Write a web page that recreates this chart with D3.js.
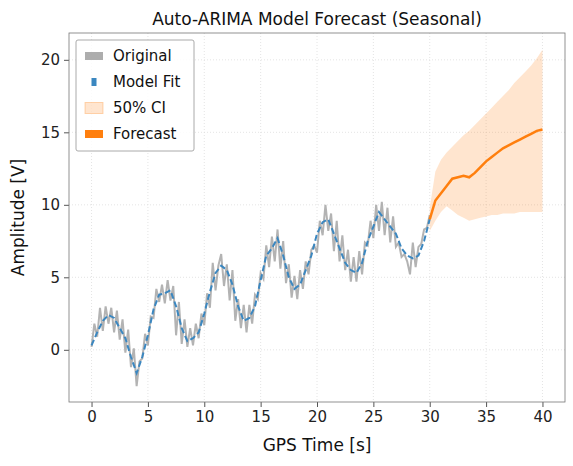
<!DOCTYPE html>
<html><head><meta charset="utf-8">
<script src="https://cdn.jsdelivr.net/npm/d3@7"></script>
<style>body{margin:0;background:#fff;font-family:"DejaVu Sans",sans-serif}</style>
</head><body><svg id="chart" width="573" height="466"></svg>
<script>
const origT0 = 0, origStep = 0.25;
const original = [0.2,1.8,0.9,2.9,1.3,3.0,1.8,2.9,1.2,2.7,0.7,2.1,-0.2,1.4,-1.2,0.1,-2.5,-0.8,-0.6,1.1,
  0.3,2.3,2.2,4.2,3.3,4.5,3.2,4.8,3.4,4.4,1.0,3.3,0.4,2.1,0.2,1.5,0.3,1.8,0.8,2.5,
  1.7,3.9,2.9,6.0,4.1,5.8,6.6,4.4,5.9,3.4,5.5,2.0,3.5,1.5,3.1,1.2,3.1,1.8,3.8,3.5,
  5.3,4.9,7.2,5.7,7.8,6.1,8.3,5.6,7.5,4.6,5.9,3.6,5.1,3.5,5.5,4.2,6.1,5.2,6.9,7.2,
  6.7,8.9,7.9,10.0,8.2,9.4,6.8,8.9,6.1,7.9,5.5,6.9,4.7,6.4,4.7,6.8,5.2,7.4,7.2,8.9,
  7.7,10.0,8.2,10.2,7.9,9.8,7.4,9.2,7.1,7.4,6.4,6.6,6.1,5.2,7.4,5.7,7.1,7.3,8.3,8.4,9.3];
const fitStep = 0.5;
const modelFit = [0.3,1.2,2.0,2.4,2.2,1.5,0.8,-0.5,-1.6,-0.5,1.0,2.8,3.8,3.9,4.1,3.0,1.5,0.6,0.8,1.2,
  2.5,4.0,5.3,5.8,5.5,4.5,3.0,2.0,2.2,3.0,4.8,6.5,7.0,7.7,6.5,5.0,4.2,4.5,5.5,6.5,
  8.0,8.8,9.0,8.0,7.0,6.0,5.5,5.3,6.0,7.5,8.5,9.5,9.0,8.5,8.0,7.0,6.5,6.3,6.5,7.5,9.0];
const fcT0 = 30, fcStep = 0.5;
const forecast = [9.0,10.3,10.8,11.3,11.8,11.9,12.0,11.9,12.2,12.6,13.0,13.3,13.6,13.9,14.1,14.3,14.5,14.7,14.9,15.1,15.2];
const ciUpper = [9.8,12.3,13.1,13.6,14.0,14.4,14.8,15.1,15.5,15.9,16.3,16.7,17.1,17.5,17.9,18.4,18.8,19.2,19.6,20.1,20.7];
const ciLower = [8.2,8.9,9.5,9.9,9.6,9.3,9.1,8.9,9.0,9.1,9.2,9.3,9.3,9.4,9.4,9.4,9.5,9.5,9.5,9.5,9.5];
const xTicks = [0,5,10,15,20,25,30,35,40];
const yTicks = [0,5,10,15,20];

const svg = d3.select("#chart");
const L = 69, R = 565, T = 33, B = 402;
const x = d3.scaleLinear().domain([-2, 42]).range([L, R]);
const y = d3.scaleLinear().domain([-3.6, 21.85]).range([B, T]);

// grid
svg.append("g").selectAll("line").data(xTicks).join("line")
  .attr("x1", d => x(d)).attr("x2", d => x(d)).attr("y1", T).attr("y2", B)
  .attr("stroke", "#ddd").attr("stroke-width", 0.8).attr("stroke-dasharray", "1,2");
svg.append("g").selectAll("line").data(yTicks).join("line")
  .attr("y1", d => y(d)).attr("y2", d => y(d)).attr("x1", L).attr("x2", R)
  .attr("stroke", "#ddd").attr("stroke-width", 0.8).attr("stroke-dasharray", "1,2");

const ci = forecast.map((d, i) => ({t: fcT0 + i * fcStep, lo: ciLower[i], hi: ciUpper[i]}));
svg.append("path").datum(ci)
  .attr("d", d3.area().x(d => x(d.t)).y0(d => y(d.lo)).y1(d => y(d.hi)))
  .attr("fill", "#ff7f0e").attr("fill-opacity", 0.2);

const line = d3.line().x(d => x(d[0])).y(d => y(d[1]));
svg.append("path").datum(original.map((v, i) => [origT0 + i * origStep, v]))
  .attr("d", line).attr("fill", "none").attr("stroke", "#999").attr("stroke-opacity", 0.75).attr("stroke-width", 2);
svg.append("path").datum(modelFit.map((v, i) => [i * fitStep, v]))
  .attr("d", line).attr("fill", "none").attr("stroke", "#3b87c0").attr("stroke-width", 2)
  .attr("stroke-dasharray", "6,3");
svg.append("path").datum(forecast.map((v, i) => [fcT0 + i * fcStep, v]))
  .attr("d", line).attr("fill", "none").attr("stroke", "#ff7f0e").attr("stroke-width", 2.5);

// axes
const xa = svg.append("g").attr("transform", `translate(0,${B})`)
  .call(d3.axisBottom(x).tickValues(xTicks).tickSize(5).tickPadding(4));
const ya = svg.append("g").attr("transform", `translate(${L},0)`)
  .call(d3.axisLeft(y).tickValues(yTicks).tickSize(5).tickPadding(4));
[xa, ya].forEach(a => {
  a.selectAll("text").attr("font-size", 15).attr("font-family", "DejaVu Sans").attr("fill", "#222");
  a.selectAll("line").attr("stroke", "#555");
  a.select(".domain").remove();
});
svg.append("rect").attr("x", L).attr("y", T).attr("width", R - L).attr("height", B - T)
  .attr("fill", "none").attr("stroke", "#777").attr("stroke-width", 0.8);

svg.append("text").attr("x", (L + R) / 2).attr("y", 25).attr("text-anchor", "middle")
  .attr("font-size", 17).attr("fill", "#111").text("Auto-ARIMA Model Forecast (Seasonal)");
svg.append("text").attr("x", (L + R) / 2).attr("y", 451).attr("text-anchor", "middle")
  .attr("font-size", 17).attr("fill", "#111").text("GPS Time [s]");
svg.append("text").attr("transform", `translate(24,${(T + B) / 2}) rotate(-90)`).attr("text-anchor", "middle")
  .attr("font-size", 17).attr("fill", "#111").text("Amplitude [V]");

// legend
const leg = svg.append("g").attr("transform", "translate(76,40)");
leg.append("rect").attr("width", 118).attr("height", 111).attr("fill", "#fff").attr("fill-opacity", 0.85)
  .attr("stroke", "#aaa").attr("rx", 2);
const items = [
  {label: "Original", color: "#999", op: 0.8, w: 18, h: 8},
  {label: "Model Fit", color: "#3b87c0", op: 1, w: 5, h: 8},
  {label: "50% CI", color: "#ff7f0e", op: 0.2, w: 18, h: 11},
  {label: "Forecast", color: "#ff7f0e", op: 1, w: 18, h: 8}
];
items.forEach((it, i) => {
  const cy = 16 + i * 26;
  leg.append("rect").attr("x", 9 + (18 - it.w) / 2).attr("y", cy - it.h / 2).attr("width", it.w).attr("height", it.h)
    .attr("fill", it.color).attr("fill-opacity", it.op).attr("stroke", it.op < 0.5 ? it.color : "none").attr("stroke-opacity", 0.3);
  leg.append("text").attr("x", 37).attr("y", cy + 5).attr("font-size", 15).attr("fill", "#111").text(it.label);
});
</script></body></html>
